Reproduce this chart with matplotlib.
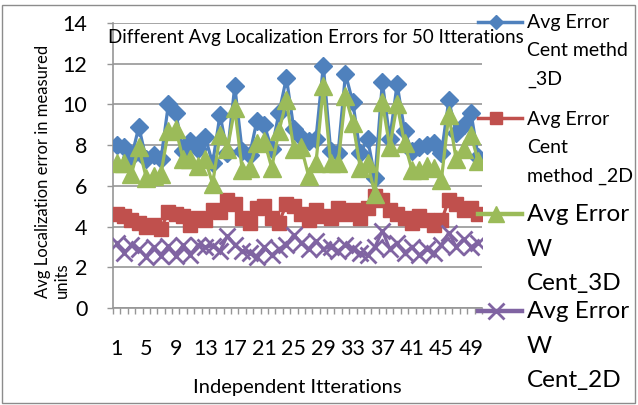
import numpy as np
import matplotlib.pyplot as plt
from matplotlib.lines import Line2D
from matplotlib.patches import Rectangle

plt.rcParams['font.family'] = ['Lato', 'DejaVu Sans']

iterations = list(range(1, 51))

cent_3d = [8.0, 7.9, 7.4, 8.9, 7.3, 7.5, 7.3, 10.0, 9.6, 7.7,
           8.2, 7.8, 8.4, 7.1, 9.5, 7.6, 10.9, 7.7, 7.5, 9.2,
           9.0, 7.8, 9.6, 11.3, 8.8, 8.4, 8.2, 8.3, 11.9, 7.7,
           7.6, 11.5, 10.1, 7.6, 8.3, 6.4, 11.1, 8.3, 11.0, 8.7,
           7.7, 7.9, 8.0, 8.1, 7.6, 10.2, 8.6, 9.0, 9.6, 7.4]
cent_2d = [4.6, 4.5, 4.3, 4.2, 4.0, 4.1, 3.9, 4.7, 4.6, 4.5,
           4.1, 4.4, 4.3, 4.8, 4.7, 5.3, 5.1, 4.4, 4.2, 4.9,
           5.0, 4.4, 4.2, 5.1, 5.0, 4.6, 4.3, 4.8, 4.5, 4.4,
           4.9, 4.6, 4.8, 4.4, 4.9, 5.5, 5.3, 4.8, 4.6, 4.4,
           4.2, 4.5, 4.3, 4.1, 4.3, 5.3, 5.1, 4.8, 4.9, 4.6]
wcent_3d = [7.1, 7.1, 6.6, 7.9, 6.4, 6.5, 6.6, 8.7, 8.8, 7.3,
            7.3, 7.0, 7.3, 6.1, 8.5, 7.8, 9.8, 6.8, 6.9, 8.1,
            8.2, 6.9, 8.7, 10.2, 7.8, 7.9, 6.5, 7.1, 10.9, 7.1,
            7.1, 10.4, 9.1, 6.9, 7.1, 5.6, 10.1, 7.9, 10.0, 8.1,
            6.8, 6.8, 7.0, 6.9, 6.3, 9.5, 7.3, 7.8, 8.5, 7.2]
wcent_2d = [3.2, 2.7, 3.1, 2.9, 2.5, 3.0, 2.55, 3.05, 2.55, 3.1,
            2.6, 3.1, 3.0, 3.05, 2.8, 3.55, 3.1, 2.8, 2.7, 2.5,
            3.0, 2.6, 2.9, 3.1, 3.6, 3.2, 2.9, 3.3, 2.9, 3.0,
            2.8, 3.1, 2.9, 2.7, 2.6, 3.0, 3.8, 2.9, 3.2, 2.7,
            3.0, 2.6, 2.9, 2.7, 3.1, 3.7, 3.0, 3.4, 3.0, 3.2]

series = [cent_3d, cent_2d, wcent_3d, wcent_2d]
labels = ["Avg Error\nCent methd\n_3D", "Avg Error\nCent\nmethod _2D",
          "Avg Error\nW\nCent_3D", "Avg Error\nW\nCent_2D"]
colors = ['#4F81BD', '#C0504D', '#9BBB59', '#8064A2']
markers = ['D', 's', '^', 'x']
msizes = [9, 9.5, 13, 12]
yticks = list(range(0, 15, 2))
xticklabels = list(range(1, 51, 4))

W, H = 638, 405
fig = plt.figure(figsize=(W / 100, H / 100), dpi=100)
ax = fig.add_axes([113 / W, 1 - 308 / H, 369 / W, 285 / H])

grey = '#969696'
for vals, col, mk, ms in zip(series, colors, markers, msizes):
    ax.plot(iterations, vals, color=col, lw=2.3, marker=mk, ms=ms,
            mfc=col, mec=col, mew=2 if mk == 'x' else 1, zorder=3)

ax.set_xlim(0.5, 50.5)
ax.set_ylim(0, 14)
ax.set_yticks(yticks)
ax.set_xticks(xticklabels)
ax.set_xticks(np.arange(0.5, 51, 1), minor=True)
ax.grid(axis='y', color=grey, lw=1.2, zorder=0)
for s in ['top', 'right']:
    ax.spines[s].set_visible(False)
for s in ['left', 'bottom']:
    ax.spines[s].set_color(grey)
    ax.spines[s].set_linewidth(1.2)
ax.tick_params(axis='x', which='major', length=0, pad=22, labelsize=15.5)
ax.tick_params(axis='x', which='minor', length=4, width=1, color=grey)
ax.tick_params(axis='y', length=4.5, width=1, color=grey, pad=14, labelsize=15.5)

fig.text(316 / W, 1 - 37 / H, "Different Avg Localization Errors for 50 Itterations",
         ha='center', va='center', fontsize=13.5)
fig.text(297 / W, 1 - 387 / H, "Independent Itterations", ha='center', va='center',
         fontsize=14.5)
# y axis title, two lines starting at the bottom
fig.text(43 / W, 1 - 298 / H, "Avg Localization error in measured",
         rotation=90, ha='center', va='bottom', fontsize=12)
fig.text(62 / W, 1 - 298 / H, "units",
         rotation=90, ha='center', va='bottom', fontsize=12)

# legend on the right, drawn per entry
leg_y = [22, 118, 214, 311]
leg_top = [14, 111, 204, 301]
leg_fs = [14, 14, 17.5, 17.5]
leg_ms = [7, 9, 12, 12]
leg_lw = [2.5, 2.5, 3.2, 3.2]
for lab, col, mk, y, yt, fs, ms, lw in zip(labels, colors, markers, leg_y, leg_top,
                                          leg_fs, leg_ms, leg_lw):
    yy = 1 - y / H
    fig.add_artist(Line2D([478 / W, 496 / W, 522 / W], [yy, yy, yy], color=col, lw=lw,
                          marker=mk, ms=ms, mfc=col, mec=col,
                          mew=2 if mk == 'x' else 1, markevery=[1]))
    fig.text(527 / W, 1 - yt / H, lab, ha='left', va='top', fontsize=fs,
             linespacing=1.8)

fig.add_artist(Rectangle((2 / W, 2 / H), (W - 5) / W, (H - 7) / H, fill=False,
                         edgecolor='#8c8c8c', lw=1, transform=fig.transFigure))

fig.savefig('out.png', dpi=100)
